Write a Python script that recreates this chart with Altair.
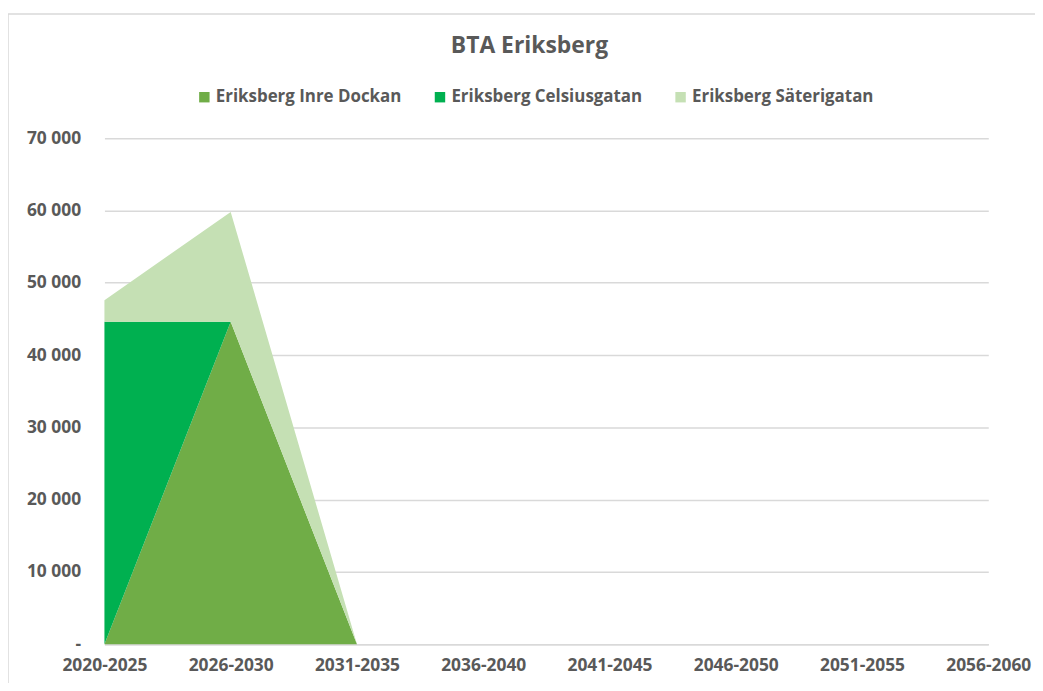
import altair as alt
import pandas as pd

categories = ["2020-2025", "2026-2030", "2031-2035", "2036-2040",
              "2041-2045", "2046-2050", "2051-2055", "2056-2060"]
series_names = ["Eriksberg Inre Dockan", "Eriksberg Celsiusgatan", "Eriksberg Säterigatan"]
inre_dockan = [0, 44600, 0, 0, 0, 0, 0, 0]
celsiusgatan = [44600, 0, 0, 0, 0, 0, 0, 0]
saterigatan = [3000, 15200, 0, 0, 0, 0, 0, 0]
colors = ["#70AD47", "#00B050", "#C5E0B4"]

rows = []
for order, (name, vals) in enumerate(zip(series_names, [inre_dockan, celsiusgatan, saterigatan])):
    for cat, v in zip(categories, vals):
        rows.append({"period": cat, "serie": name, "bta": v, "ordning": order})
df = pd.DataFrame(rows)

FONT = "Open Sans"
TXT = "#595959"
GRID = "#D9D9D9"

area = alt.Chart(df).mark_area(opacity=1, strokeWidth=0).encode(
    x=alt.X("period:O", sort=categories,
            scale=alt.Scale(type="point", padding=0),
            axis=alt.Axis(title=None, labelAngle=0, labelFont=FONT, labelFontSize=17.5,
                          labelFontWeight="bold", labelColor=TXT, labelPadding=12,
                          ticks=False, domainColor=GRID, domainWidth=1.5, grid=False)),
    y=alt.Y("sum(bta):Q", stack="zero",
            scale=alt.Scale(domain=[0, 70000], nice=False),
            axis=alt.Axis(title=None, values=list(range(0, 70001, 10000)),
                          labelExpr="datum.value == 0 ? '-\u00a0\u00a0' : format(datum.value/1000, 'd') + ' 000'",
                          labelFont=FONT, labelFontSize=17.5, labelFontWeight="bold",
                          labelColor=TXT, labelPadding=24, ticks=False, domain=False,
                          gridColor=GRID, gridWidth=1.5)),
    color=alt.Color("serie:N", sort=series_names,
                    scale=alt.Scale(domain=series_names, range=colors),
                    legend=alt.Legend(title=None, orient="none", direction="horizontal",
                                      legendX=92, legendY=-50,
                                      symbolType="square", symbolSize=110,
                                      symbolStrokeWidth=0, labelFont=FONT,
                                      labelFontSize=17, labelFontWeight="bold",
                                      labelColor=TXT, columnPadding=30,
                                      labelOffset=3, labelLimit=0)),
    order=alt.Order("ordning:Q", sort="ascending"),
)

border = alt.Chart(pd.DataFrame({"k": [0]})).mark_rect(
    fill="transparent", stroke=GRID, strokeWidth=1.5
).encode(
    x=alt.value(-97), x2=alt.value(950), y=alt.value(-125), y2=alt.value(580)
)

chart = alt.layer(border, area).properties(
    width=889, height=509,
    title=alt.TitleParams("BTA Eriksberg", font=FONT, fontSize=23, fontWeight="bold",
                          color=TXT, anchor="middle", frame="group", dx=-17, offset=-45),
    autosize=alt.AutoSizeParams(type="none"),
    padding={"left": 97, "top": 129, "right": 47, "bottom": 37},
).configure_view(stroke=None)

chart.save("out.html", embed_options={"renderer": "svg", "actions": False})
